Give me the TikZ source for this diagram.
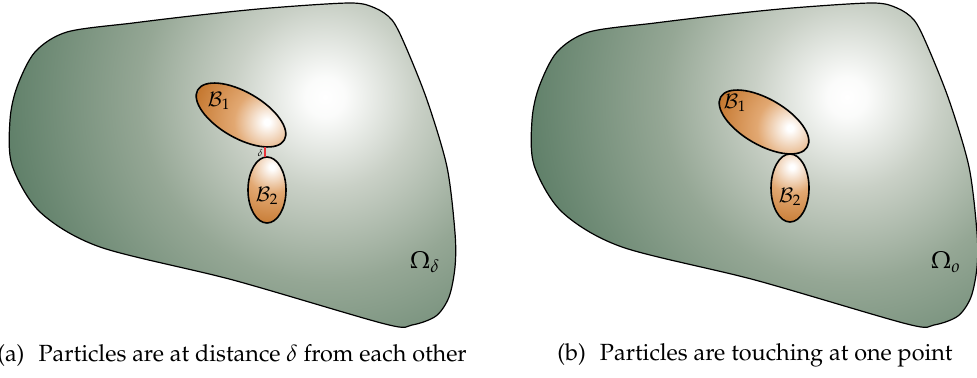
\documentclass[tikz,border=0pt]{standalone}
\usepackage[T1]{fontenc}
\usepackage{mathpazo}
\usepackage{tikz}
\usetikzlibrary{calc}
\definecolor{verdeosc}{HTML}{5C7D66}
\definecolor{verdemed}{HTML}{95A795}
\definecolor{verdeclaro}{HTML}{C9D0C6}
\definecolor{naranja}{HTML}{E2A872}
\definecolor{naranjaosc}{HTML}{C57830}
\definecolor{rojo}{HTML}{E8343A}
\pgfdeclareradialshading{dominio}{\pgfpoint{0bp}{0bp}}{color(0bp)=(white); color(1.5bp)=(white!92!verdeclaro); color(7bp)=(verdeclaro); color(14bp)=(verdemed); color(25bp)=(verdeosc); color(50bp)=(verdeosc)}
\pgfdeclareradialshading{cuerpo}{\pgfpoint{0bp}{0bp}}{color(0bp)=(white); color(1bp)=(white); color(11bp)=(naranja); color(25bp)=(naranjaosc); color(50bp)=(naranjaosc)}
\tikzset{
  borde/.style={draw=black, line width=0.6pt},
  contorno/.style={smooth cycle, tension=0.5},
  cuerpo/.style={draw=black, line width=0.8pt},
  etiq/.style={font=\normalsize, inner sep=0pt},
  omega/.style={font=\large, inner sep=0pt},
  pie/.style={font=\fontsize{11.7}{13}\selectfont, inner sep=0pt}
}
\def\dominio{plot[contorno] coordinates {(67,32) (133,23) (200,15) (270,8) (350,3) (375,8) (392,20) (405,45) (427,100) (447,167) (455,233) (455,267) (449,297) (436,316) (412,325) (385,324) (233,280) (100,247) (40,212) (12,165) (10,120) (17,87) (35,52)}}

\begin{document}
\begin{tikzpicture}[x=0.5pt, y=-0.5pt]
  \useasboundingbox (0,0) rectangle (977,378);

  % --- Dominios ---
  \foreach \dx in {0,522} {
    \begin{scope}[xshift=\dx*0.5pt]
      \begin{scope}
        \clip \dominio;
        \shade[shading=dominio] (325,97) circle (330);
      \end{scope}
      \draw[borde] \dominio;
    \end{scope}
  }

  % --- Particulas (centro, semiejes, giro, brillo) ---
  \foreach \cx/\cy/\a/\b/\ang/\hx/\hy/\r in {
      241/115/50/23/-30/267/122/75, 267/190/19/33/0/272/167/60,
      764/122/50/23/-30/790/128/75, 790/188/19/34/0/792/167/60} {
    \begin{scope}
      \clip[rotate around={\ang:(\cx,\cy)}] (\cx,\cy) ellipse [x radius=\a, y radius=\b];
      \shade[shading=cuerpo] (\hx,\hy) circle (\r);
    \end{scope}
    \draw[cuerpo, rotate around={\ang:(\cx,\cy)}] (\cx,\cy) ellipse [x radius=\a, y radius=\b];
  }

  % --- Separacion delta ---
  \coordinate (d1) at (265,147.5);
  \coordinate (d2) at (265,157);
  \draw[rojo, line width=0.6pt] (d1) -- (d2);
  \node[font=\fontsize{5}{5}\selectfont, inner sep=0pt, left=1pt] (del) at ($(d1)!0.6!(d2)$) {$\delta$};

  % --- Etiquetas ---
  \node[etiq] (b1a) at (219,101) {$\mathcal{B}_1$};
  \node[etiq] (b2a) at (267,196) {$\mathcal{B}_2$};
  \node[etiq] (b1b) at (735,103) {$\mathcal{B}_1$};
  \node[etiq] (b2b) at (790,197) {$\mathcal{B}_2$};
  \node[omega] (oma) at (425,262) {$\Omega_\delta$};
  \node[omega] (omb) at (946,262) {$\Omega_o$};

  % --- Pies ---
  \node[pie] (pa) at (232,355) {(a)\hspace{0.6em}Particles are at distance $\delta$ from each other};
  \node[pie] (pb) at (755,355) {(b)\hspace{0.6em}Particles are touching at one point};
\end{tikzpicture}
\end{document}
